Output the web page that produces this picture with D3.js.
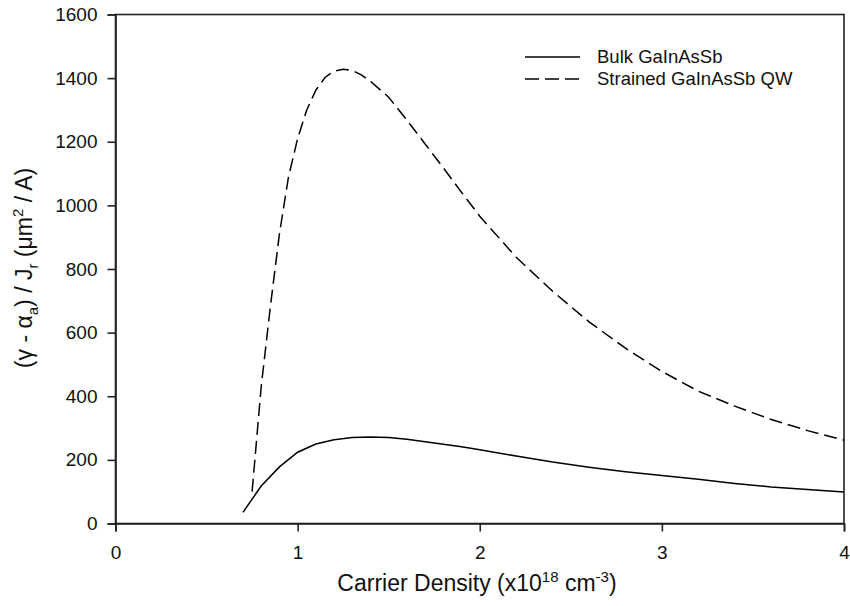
<!DOCTYPE html>
<html>
<head>
<meta charset="utf-8">
<script src="https://cdn.jsdelivr.net/npm/d3@7"></script>
<style>
  html, body { margin: 0; padding: 0; background: #fff; }
  svg { display: block; font-family: "Liberation Sans", Arial, Helvetica, sans-serif; }
</style>
</head>
<body>
<svg id="chart" width="850" height="606"></svg>
<script>
// ---- data ----
const bulkX = [0.7, 0.8, 0.9, 1.0, 1.1, 1.2, 1.3, 1.4, 1.5, 1.6, 1.7, 1.8, 1.9, 2.0, 2.2, 2.4, 2.6, 2.8, 3.0, 3.2, 3.4, 3.6, 3.8, 4.0];
const bulkY = [35, 118, 178, 224, 250, 263, 270, 272, 270, 265, 257, 249, 241, 232, 212, 193, 177, 163, 151, 139, 126, 115, 107, 99];
const qwX = [0.75, 0.8, 0.85, 0.9, 0.95, 1.0, 1.05, 1.1, 1.15, 1.2, 1.25, 1.3, 1.35, 1.4, 1.5, 1.6, 1.7, 1.8, 1.9, 2.0, 2.2, 2.4, 2.6, 2.8, 3.0, 3.2, 3.4, 3.6, 3.8, 4.0];
const qwY = [100, 430, 680, 910, 1090, 1210, 1300, 1362, 1402, 1422, 1428, 1424, 1410, 1390, 1340, 1268, 1193, 1118, 1041, 966, 837, 730, 634, 551, 478, 416, 369, 327, 292, 262];
const xTicks = [0, 1, 2, 3, 4];
const yTicks = [0, 200, 400, 600, 800, 1000, 1200, 1400, 1600];
const seriesNames = ["Bulk GaInAsSb", "Strained GaInAsSb QW"];

const svg = d3.select("#chart");
const mLeft = 115.5, mRight = 844, mTop = 14.5, mBottom = 523.5;
const x = d3.scaleLinear().domain([0, 4]).range([mLeft, mRight]);
const y = d3.scaleLinear().domain([0, 1600]).range([mBottom, mTop]);
const axisColor = "#222";

// frame
svg.append("rect").attr("x", mLeft).attr("y", mTop)
  .attr("width", mRight - mLeft).attr("height", mBottom - mTop)
  .attr("fill", "none").attr("stroke", axisColor).attr("stroke-width", 1.6);

// axes
const xAxis = svg.append("g").attr("transform", `translate(0,${mBottom})`)
  .call(d3.axisBottom(x).tickValues(xTicks).tickFormat(d3.format("d")).tickSize(8).tickPadding(14));
const yAxis = svg.append("g").attr("transform", `translate(${mLeft},0)`)
  .call(d3.axisLeft(y).tickValues(yTicks).tickFormat(d3.format("d")).tickSize(8).tickPadding(10));
[xAxis, yAxis].forEach(g => {
  g.select(".domain").attr("stroke", axisColor).attr("stroke-width", 1.6);
  g.selectAll(".tick line").attr("stroke", axisColor).attr("stroke-width", 1.6);
  g.selectAll(".tick text").attr("fill", "#111").style("font-size", "19px")
    .style("font-family", "'Liberation Sans', Arial, sans-serif");
});

// lines
const line = d3.line().x(d => x(d[0])).y(d => y(d[1]));
const bulk = bulkX.map((v, i) => [v, bulkY[i]]);
const qw = qwX.map((v, i) => [v, qwY[i]]);
svg.append("path").datum(bulk).attr("d", line)
  .attr("fill", "none").attr("stroke", "#000").attr("stroke-width", 1.5);
svg.append("path").datum(qw).attr("d", line)
  .attr("fill", "none").attr("stroke", "#000").attr("stroke-width", 1.5)
  .attr("stroke-dasharray", "13,6");

// legend
const leg = svg.append("g");
const legRows = [{ name: seriesNames[0], dash: null, yy: 57 }, { name: seriesNames[1], dash: "14,6", yy: 79 }];
legRows.forEach(r => {
  leg.append("line").attr("x1", 525).attr("x2", 580).attr("y1", r.yy).attr("y2", r.yy)
    .attr("stroke", "#000").attr("stroke-width", 1.5)
    .attr("stroke-dasharray", r.dash);
  leg.append("text").attr("x", 597).attr("y", r.yy).attr("dy", "0.35em")
    .style("font-size", "18.5px").attr("fill", "#111").text(r.name);
});

// x title
const xt = svg.append("text").attr("x", 477).attr("y", 591)
  .attr("text-anchor", "middle").style("font-size", "23px").attr("fill", "#111");
xt.append("tspan").text("Carrier Density (x10");
xt.append("tspan").attr("dy", -9).style("font-size", "15px").text("18");
xt.append("tspan").attr("dy", 9).text(" cm");
xt.append("tspan").attr("dy", -9).style("font-size", "15px").text("-3");
xt.append("tspan").attr("dy", 9).text(")");

// y title
const yt = svg.append("text").attr("transform", "translate(32,268) rotate(-90)")
  .attr("text-anchor", "middle").style("font-size", "23px").attr("fill", "#111");
yt.append("tspan").text("(γ - α");
yt.append("tspan").attr("dy", 6).style("font-size", "15px").text("a");
yt.append("tspan").attr("dy", -6).text(") / J");
yt.append("tspan").attr("dy", 6).style("font-size", "15px").text("r");
yt.append("tspan").attr("dy", -6).text(" (μm");
yt.append("tspan").attr("dy", -9).style("font-size", "15px").text("2");
yt.append("tspan").attr("dy", 9).text(" / A)");
</script>
</body>
</html>
